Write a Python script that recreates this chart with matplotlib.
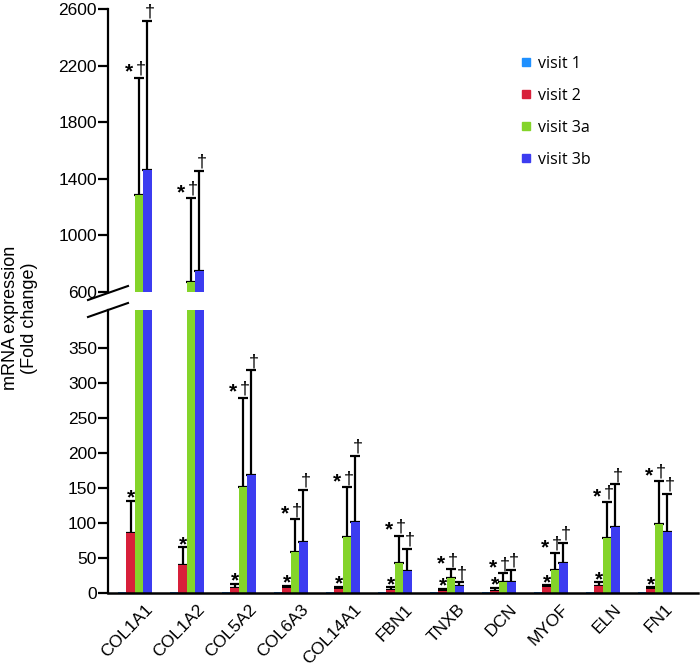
import numpy as np
import matplotlib
matplotlib.use('Agg')
import matplotlib.pyplot as plt
from matplotlib.lines import Line2D

plt.rcParams['font.family'] = ['Liberation Sans', 'DejaVu Sans']

genes = ['COL1A1', 'COL1A2', 'COL5A2', 'COL6A3', 'COL14A1', 'FBN1',
         'TNXB', 'DCN', 'MYOF', 'ELN', 'FN1']
labels = ['visit 1', 'visit 2', 'visit 3a', 'visit 3b']
colors = ['#1e90ff', '#d8203a', '#84d42a', '#3c3cf0']

# mean fold change per visit
visit1 = [1, 1, 1, 1, 1, 1, 1, 1, 1, 1, 1]
visit2 = [86, 40, 7, 7, 5, 4, 3, 3, 8, 10, 5]
visit3a = [1283, 666, 151, 58, 80, 43, 21, 15, 33, 79, 99]
visit3b = [1465, 749, 168, 73, 102, 31, 10, 15, 43, 94, 87]

# upper error (SD)
sd1 = [0, 0, 0, 0, 0, 0, 0, 0, 0, 0, 0]
sd2 = [46, 25, 6, 3, 4, 4, 3, 4, 3, 5, 3]
sd3a = [832, 598, 128, 47, 71, 39, 13, 13, 24, 51, 61]
sd3b = [1052, 708, 150, 74, 94, 32, 5, 18, 29, 61, 55]

means = [visit1, visit2, visit3a, visit3b]
sds = [sd1, sd2, sd3a, sd3b]

fig = plt.figure(figsize=(7, 6.7), dpi=100)
W, H = 700.0, 670.0
ax_top = fig.add_axes([108 / W, 1 - 291.7 / H, 590 / W, (291.7 - 9.3) / H])
ax_bot = fig.add_axes([108 / W, 1 - 593 / H, 590 / W, (593 - 310) / H])

x = np.arange(len(genes))
w = 0.163
offs = np.array([-1.5, -0.5, 0.5, 1.5]) * w
px = 1 / 52.0  # one pixel in data units along x

for ax in (ax_top, ax_bot):
    for k in range(4):
        m = np.array(means[k])
        s = np.array(sds[k])
        ax.bar(x + offs[k], m, width=w, color=colors[k], zorder=2)
        if k > 0:
            ax.errorbar(x + offs[k], m, yerr=[np.zeros_like(s), s], fmt='none',
                        ecolor='black', elinewidth=1.6, capsize=3.3, capthick=1.6,
                        zorder=1)
    ax.set_xlim((108 - 134.75) / 52, (698 - 134.75) / 52)
    ax.spines['top'].set_visible(False)
    ax.spines['right'].set_visible(False)
    ax.spines['left'].set_linewidth(1.6)
    ax.tick_params(axis='y', direction='out', length=7, width=1.6, labelsize=12.5, pad=1)

ax_top.set_ylim(600, 2600)
ax_top.set_yticks([600, 1000, 1400, 1800, 2200, 2600])
ax_top.spines['bottom'].set_visible(False)
ax_top.set_xticks([])

ax_bot.set_ylim(0, 404)
ax_bot.set_yticks([0, 50, 100, 150, 200, 250, 300, 350])
ax_bot.spines['bottom'].set_linewidth(1.8)
ax_bot.set_xticks(x + 0.2)
ax_bot.set_xticklabels(genes, rotation=46, ha='right', rotation_mode='anchor',
                       fontsize=12.5)
ax_bot.tick_params(axis='x', length=0, pad=6)


def mark(top, xpos, text, dy, size, weight):
    ax = ax_top if top > 404 else ax_bot
    ax.annotate(text, (xpos, top), xytext=(0, dy), textcoords='offset points',
                ha='center', va='baseline', fontsize=size, fontweight=weight,
                annotation_clip=False)


for i in range(len(genes)):
    t2 = visit2[i] + sd2[i]
    t3a = visit3a[i] + sd3a[i]
    t3b = visit3b[i] + sd3b[i]
    mark(t2, x[i] + offs[1], '*', -2, 15, 'bold')
    mark(t3a, x[i] + offs[2] - 10 * px, '*', 0, 15, 'bold')
    mark(t3a, x[i] + offs[2] + 2 * px, '\u2020', 3, 13, 'normal')
    mark(t3b, x[i] + offs[3] + 2 * px, '\u2020', 3, 13, 'normal')

# axis break marks
for yc in (293, 310):
    fig.add_artist(Line2D([88 / W, 128 / W], [1 - (yc + 7) / H, 1 - (yc - 7) / H],
                          color='black', lw=1.5))

fig.text(20 / W, 1 - 318 / H, 'mRNA expression\n(Fold change)', rotation=90,
         ha='center', va='center', fontsize=13)

handles = [Line2D([], [], marker='s', linestyle='none', markersize=6,
                  color=c) for c in colors]
fig.legend(handles, labels, loc='upper left', bbox_to_anchor=(512 / W, 1 - 48 / H),
           frameon=False, handlelength=0.7, handletextpad=0.4, labelspacing=1.0,
           prop={'family': 'Open Sans', 'size': 11.5}, borderpad=0)

fig.savefig('out.png', dpi=100)
